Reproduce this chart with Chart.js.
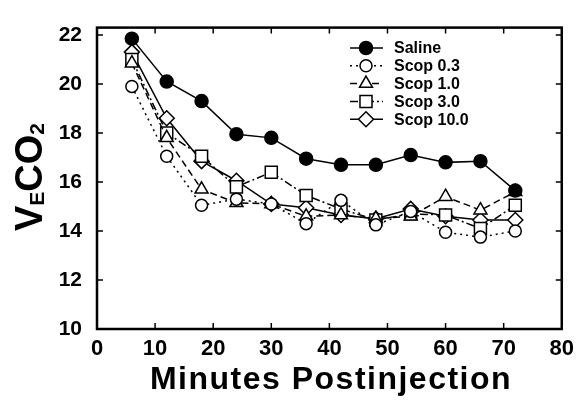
<!DOCTYPE html>
<html>
<head>
<meta charset="utf-8">
<script src="https://cdn.jsdelivr.net/npm/chart.js@4"></script>
<style>
  body { margin: 0; background: #fff; }
  #wrap { width: 581px; height: 404px; }
</style>
</head>
<body>
<div id="wrap"><canvas id="myChart"></canvas></div>
<script>
// data
const minutes = [6, 12, 18, 24, 30, 36, 42, 48, 54, 60, 66, 72];
const saline   = [21.85, 20.1, 19.3, 17.95, 17.8, 16.95, 16.7, 16.7, 17.1, 16.8, 16.85, 15.65];
const scop03   = [19.9, 17.05, 15.05, 15.3, 15.1, 14.3, 15.25, 14.25, 14.8, 13.95, 13.75, 14.0];
const scop10   = [20.85, 17.8, 15.7, 15.15, 15.1, 14.6, 14.65, 14.5, 14.6, 15.4, 14.85, 15.6];
const scop30   = [21.0, 18.0, 17.05, 15.8, 16.4, 15.45, 14.9, 14.45, 14.7, 14.65, 14.1, 15.05];
const scop100  = [21.3, 18.6, 16.85, 16.05, 15.1, 14.95, 14.65, 14.5, 14.9, 14.6, 14.45, 14.45];

const seriesNames = ["Saline", "Scop 0.3", "Scop 1.0", "Scop 3.0", "Scop 10.0"];
const xTicks = [0, 10, 20, 30, 40, 50, 60, 70, 80];
const yTicks = [10, 12, 14, 16, 18, 20, 22];

const FONT = "'Liberation Sans', Arial, Helvetica, sans-serif";

function pts(arr) {
    return minutes.map((m, i) => ({ x: m, y: arr[i] }));
}

function drawMarker(ctx, style, x, y, r, fill) {
    ctx.save();
    ctx.lineWidth = 1.5;
    ctx.strokeStyle = '#000';
    ctx.fillStyle = fill;
    ctx.setLineDash([]);
    ctx.beginPath();
    if (style === 'circle') {
        ctx.arc(x, y, r, 0, Math.PI * 2);
    } else if (style === 'triangle') {
        ctx.moveTo(x, y - r);
        ctx.lineTo(x + r * 0.866, y + r * 0.5);
        ctx.lineTo(x - r * 0.866, y + r * 0.5);
        ctx.closePath();
    } else if (style === 'rect') {
        let s = r * Math.SQRT1_2;
        ctx.rect(x - s, y - s, 2 * s, 2 * s);
    } else if (style === 'rectRot') {
        ctx.moveTo(x, y - r);
        ctx.lineTo(x + r, y);
        ctx.lineTo(x, y + r);
        ctx.lineTo(x - r, y);
        ctx.closePath();
    }
    ctx.fill();
    ctx.stroke();
    ctx.restore();
}

// frame, inward ticks, titles, legend
const extras = {
    id: 'extras',
    afterDraw(chart) {
        const ctx = chart.ctx;
        const a = chart.chartArea;
        const xs = chart.scales.x;
        const ys = chart.scales.y;
        ctx.save();
        ctx.strokeStyle = '#000';
        ctx.lineWidth = 2.5;
        ctx.strokeRect(a.left, a.top, a.right - a.left, a.bottom - a.top);

        ctx.lineWidth = 1.5;
        ctx.beginPath();
        xTicks.forEach(v => {
            let px = xs.getPixelForValue(v);
            ctx.moveTo(px, a.bottom); ctx.lineTo(px, a.bottom - 6);
            ctx.moveTo(px, a.top); ctx.lineTo(px, a.top + 6);
        });
        yTicks.forEach(v => {
            let py = ys.getPixelForValue(v);
            ctx.moveTo(a.left, py); ctx.lineTo(a.left + 6, py);
            ctx.moveTo(a.right, py); ctx.lineTo(a.right - 6, py);
        });
        ctx.stroke();

        // x title
        ctx.fillStyle = '#000';
        ctx.font = "bold 32px " + FONT;
        ctx.letterSpacing = '1.5px';
        ctx.textAlign = 'center';
        ctx.textBaseline = 'alphabetic';
        ctx.fillText("Minutes Postinjection", 331, 389);
        ctx.letterSpacing = '0px';

        // y title with subscripts
        ctx.save();
        ctx.translate(42, 231);
        ctx.rotate(-Math.PI / 2);
        ctx.textAlign = 'left';
        let cx = 0;
        const parts = [["V", 38, 0], ["E", 21, 2], ["CO", 38, 0], ["2", 21, 2]];
        parts.forEach(p => {
            ctx.font = "bold " + p[1] + "px " + FONT;
            ctx.fillText(p[0], cx, p[2]);
            cx += ctx.measureText(p[0]).width;
        });
        ctx.restore();

        // legend
        ctx.font = "bold 16px " + FONT;
        ctx.textAlign = 'left';
        ctx.textBaseline = 'middle';
        chart.data.datasets.forEach((ds, i) => {
            let y = 48 + i * 17.8;
            ctx.save();
            ctx.lineWidth = ds.borderWidth;
            ctx.setLineDash(ds.borderDash || []);
            ctx.beginPath();
            ctx.moveTo(350, y); ctx.lineTo(383, y);
            ctx.stroke();
            ctx.restore();
            drawMarker(ctx, ds.pointStyle, 366, y, ds.pointRadius, ds.pointBackgroundColor);
            ctx.fillStyle = '#000';
            ctx.fillText(ds.label, 394, y + 1);
        });
        ctx.restore();
    }
};

const styles = [
    { pointStyle: 'circle',   pointRadius: 6.5, fill: '#000', dash: [] },
    { pointStyle: 'circle',   pointRadius: 6,   fill: '#fff', dash: [2, 4] },
    { pointStyle: 'triangle', pointRadius: 7.5, fill: '#fff', dash: [7, 4] },
    { pointStyle: 'rect',     pointRadius: 8.5, fill: '#fff', dash: [8, 3, 2, 3] },
    { pointStyle: 'rectRot',  pointRadius: 7.5, fill: '#fff', dash: [] }
];
const allSeries = [saline, scop03, scop10, scop30, scop100];

const datasets = allSeries.map((arr, i) => ({
    label: seriesNames[i],
    data: pts(arr),
    borderColor: '#000',
    borderWidth: 1.5,
    borderDash: styles[i].dash,
    pointStyle: styles[i].pointStyle,
    pointRadius: styles[i].pointRadius,
    pointBackgroundColor: styles[i].fill,
    pointBorderColor: '#000',
    pointBorderWidth: 1.5,
    tension: 0,
    fill: false
}));

const chart = new Chart(document.getElementById('myChart'), {
    type: 'line',
    data: { datasets: datasets },
    options: {
        responsive: true,
        maintainAspectRatio: false,
        animation: false,
        layout: { padding: { top: 14, right: 14, left: 0, bottom: 0 } },
        plugins: {
            legend: { display: false },
            tooltip: { enabled: false }
        },
        scales: {
            x: {
                type: 'linear',
                min: 0,
                max: 80,
                afterBuildTicks: s => { s.ticks = xTicks.map(v => ({ value: v })); },
                afterFit: s => { s.height = 75; },
                grid: { display: false, drawTicks: false },
                border: { display: false },
                ticks: {
                    padding: 7,
                    color: '#000',
                    maxRotation: 0,
                    font: { family: FONT, size: 22, weight: 'bold' }
                }
            },
            y: {
                min: 10,
                max: 22.3,
                afterBuildTicks: s => { s.ticks = yTicks.map(v => ({ value: v })); },
                afterFit: s => { s.width = 97; },
                grid: { display: false, drawTicks: false },
                border: { display: false },
                ticks: {
                    padding: 15,
                    color: '#000',
                    font: { family: FONT, size: 21, weight: 'bold' }
                }
            }
        }
    },
    plugins: [extras]
});
</script>
</body>
</html>
